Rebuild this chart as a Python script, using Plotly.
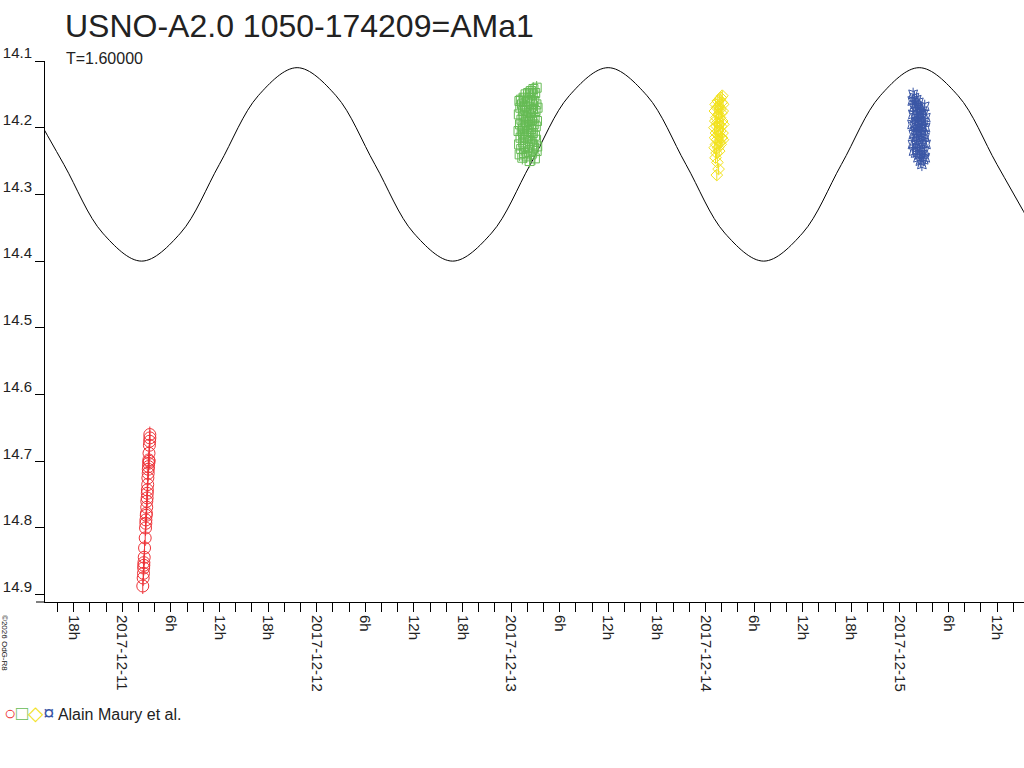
#!/bin/env python3

# %%
import pandas as pd
import plotly.graph_objects as go

# %%
# Model light curve (T=1.6 d): days after 2017-12-11 00:00
curve_days = [-0.501, -0.301, -0.101, 0.099, 0.299, 0.499, 0.699, 0.899, 1.099,
              1.299, 1.499, 1.699, 1.899, 2.099, 2.299, 2.499, 2.699, 2.899,
              3.099, 3.299, 3.499, 3.699, 3.899, 4.099, 4.299, 4.499, 4.699]
curve_mags = [14.152, 14.255, 14.358, 14.400, 14.358, 14.255, 14.152, 14.110, 14.152,
              14.255, 14.358, 14.400, 14.358, 14.255, 14.152, 14.110, 14.152, 14.255,
              14.358, 14.400, 14.358, 14.255, 14.152, 14.110, 14.152, 14.255, 14.358]

# Session 1 (red circles), hours on 2017-12-11
red_hours = [2.52, 2.57, 2.61, 2.63, 2.65, 2.66, 2.70, 2.74, 2.82, 2.86, 2.90, 2.91,
             2.95, 2.97, 3.01, 3.02, 3.06, 3.08, 3.09, 3.13, 3.15, 3.19, 3.20, 3.23,
             3.24, 3.27, 3.29, 3.34, 3.37, 3.40, 3.39, 3.31]
red_mags = [14.887, 14.875, 14.868, 14.860, 14.856, 14.852, 14.844, 14.830, 14.815,
            14.800, 14.793, 14.788, 14.781, 14.778, 14.769, 14.760, 14.755, 14.748,
            14.743, 14.735, 14.725, 14.718, 14.712, 14.708, 14.703, 14.698, 14.688,
            14.676, 14.670, 14.665, 14.660, 14.700]

# Session 2 (green squares), hours on 2017-12-13
green_hours = [0.91, 0.95, 0.98, 1.02, 1.05, 1.09, 1.13, 1.16, 1.20, 1.24, 1.27, 1.31,
               1.34, 1.38, 1.42, 1.45, 1.49, 1.53, 1.56, 1.60, 1.63, 1.67, 1.71, 1.74,
               1.78, 1.81, 1.85, 1.89, 1.92, 1.96, 2.00, 2.03, 2.07, 2.10, 2.14, 2.18,
               2.21, 2.25, 2.28, 2.32, 2.36, 2.39, 2.43, 2.47, 2.50, 2.54, 2.57, 2.61,
               2.65, 2.68, 2.72, 2.75, 2.79, 2.83, 2.86, 2.90, 2.94, 2.97, 3.01, 3.04,
               3.08, 3.12, 3.15, 3.19, 3.22, 3.26, 2.28, 2.93, 3.15]
green_mags = [14.205, 14.180, 14.225, 14.160, 14.240, 14.195, 14.170, 14.215, 14.158,
              14.232, 14.188, 14.205, 14.165, 14.245, 14.198, 14.175, 14.222, 14.155,
              14.210, 14.238, 14.182, 14.200, 14.168, 14.228, 14.150, 14.192, 14.215,
              14.174, 14.243, 14.160, 14.205, 14.185, 14.230, 14.148, 14.196, 14.212,
              14.170, 14.236, 14.155, 14.190, 14.220, 14.178, 14.145, 14.202, 14.240,
              14.165, 14.188, 14.225, 14.150, 14.208, 14.172, 14.142, 14.195, 14.230,
              14.160, 14.185, 14.212, 14.148, 14.175, 14.198, 14.218, 14.165, 14.140,
              14.190, 14.228, 14.170, 14.250, 14.246, 14.235]

# Session 3 (yellow diamonds), hours on 2017-12-14
yellow_hours = [1.10, 1.13, 1.15, 1.18, 1.20, 1.23, 1.25, 1.28, 1.30, 1.33, 1.36, 1.38,
                1.39, 1.41, 1.43, 1.46, 1.48, 1.51, 1.54, 1.56, 1.59, 1.61, 1.64, 1.66,
                1.69, 1.71, 1.74, 1.77, 1.79, 1.82, 1.84, 1.87, 1.89, 1.92, 1.94, 1.97,
                2.00, 2.02, 2.05, 2.07, 2.10, 2.12, 2.15, 2.17, 2.20]
yellow_mags = [14.200, 14.230, 14.175, 14.215, 14.190, 14.245, 14.165, 14.208, 14.225,
               14.185, 14.238, 14.198, 14.271, 14.170, 14.218, 14.252, 14.192, 14.160,
               14.230, 14.205, 14.180, 14.262, 14.212, 14.168, 14.235, 14.195, 14.158,
               14.222, 14.185, 14.205, 14.172, 14.225, 14.155, 14.198, 14.215, 14.178,
               14.162, 14.215, 14.190, 14.152, 14.208, 14.175, 14.218, 14.165, 14.195]

# Session 4 (blue stars), hours on 2017-12-15
blue_hours = [1.50, 1.53, 1.56, 1.60, 1.63, 1.66, 1.69, 1.72, 1.75, 1.79, 1.82, 1.85,
              1.88, 1.91, 1.95, 1.98, 2.01, 2.04, 2.07, 2.11, 2.14, 2.17, 2.20, 2.23,
              2.26, 2.30, 2.33, 2.36, 2.39, 2.42, 2.46, 2.49, 2.52, 2.55, 2.58, 2.61,
              2.65, 2.68, 2.71, 2.74, 2.77, 2.81, 2.84, 2.87, 2.90, 2.93, 2.97, 3.00,
              3.03, 3.06, 3.09, 3.12, 3.16, 3.19, 3.22]
blue_mags = [14.195, 14.160, 14.225, 14.180, 14.150, 14.210, 14.235, 14.170, 14.198,
             14.155, 14.220, 14.185, 14.205, 14.165, 14.238, 14.192, 14.175, 14.215,
             14.158, 14.200, 14.230, 14.182, 14.168, 14.245, 14.208, 14.190, 14.162,
             14.225, 14.198, 14.240, 14.178, 14.212, 14.250, 14.170, 14.195, 14.232,
             14.205, 14.185, 14.255, 14.218, 14.175, 14.240, 14.200, 14.222, 14.180,
             14.248, 14.210, 14.192, 14.235, 14.168, 14.215, 14.245, 14.200, 14.185,
             14.225]

# x axis labels every 6 h
tick_times = ["2017-12-10 18:00", "2017-12-11 00:00", "2017-12-11 06:00", "2017-12-11 12:00",
              "2017-12-11 18:00", "2017-12-12 00:00", "2017-12-12 06:00", "2017-12-12 12:00",
              "2017-12-12 18:00", "2017-12-13 00:00", "2017-12-13 06:00", "2017-12-13 12:00",
              "2017-12-13 18:00", "2017-12-14 00:00", "2017-12-14 06:00", "2017-12-14 12:00",
              "2017-12-14 18:00", "2017-12-15 00:00", "2017-12-15 06:00", "2017-12-15 12:00"]
tick_labels = ["18h", "2017-12-11", "6h", "12h", "18h", "2017-12-12", "6h", "12h",
               "18h", "2017-12-13", "6h", "12h", "18h", "2017-12-14", "6h", "12h",
               "18h", "2017-12-15", "6h", "12h"]
y_ticks = [14.1, 14.2, 14.3, 14.4, 14.5, 14.6, 14.7, 14.8, 14.9]


def to_time(day: str, hours: list) -> pd.DatetimeIndex:
    """Turns decimal hours of a given day into timestamps."""
    return pd.Timestamp(day) + pd.to_timedelta(hours, unit="h")


def session_trace(day, hours, mags, symbol, color, size, err) -> go.Scatter:
    return go.Scatter(
        x=to_time(day, hours),
        y=mags,
        mode="markers",
        marker=dict(symbol=symbol, size=size, color=color, line=dict(width=1, color=color)),
        error_y=dict(type="constant", value=err, color=color, thickness=1, width=0),
        showlegend=False,
    )


def main() -> None:
    fig = go.Figure()

    fig.add_trace(
        go.Scatter(
            x=pd.Timestamp("2017-12-11") + pd.to_timedelta(curve_days, unit="D"),
            y=curve_mags,
            mode="lines",
            line=dict(color="black", width=1, shape="spline", smoothing=1.0),
            showlegend=False,
        )
    )
    fig.add_trace(session_trace("2017-12-11", red_hours, red_mags, "circle-open", "#EE3338", 12, 0.012))
    fig.add_trace(session_trace("2017-12-13", green_hours, green_mags, "square-open", "#66BB55", 9, 0.010))
    fig.add_trace(session_trace("2017-12-14", yellow_hours, yellow_mags, "diamond-open", "#F2E21E", 9, 0.008))
    fig.add_trace(session_trace("2017-12-15", blue_hours, blue_mags, "star-square-open", "#3A56A5", 8, 0.010))

    font = "Liberation Sans, Arial, sans-serif"
    fig.update_layout(
        width=1024,
        height=768,
        margin=dict(l=45, r=0, t=61, b=166, autoexpand=False),
        plot_bgcolor="white",
        paper_bgcolor="white",
        font=dict(family=font, size=15, color="#222222"),
        title=dict(
            text="USNO-A2.0 1050-174209=AMa1",
            x=65 / 1024,
            xanchor="left",
            y=1 - 26 / 768,
            yanchor="middle",
            font=dict(size=32, color="#222222"),
        ),
    )
    fig.update_xaxes(
        type="date",
        range=["2017-12-10 14:27", "2017-12-15 15:19"],
        tickvals=tick_times,
        ticktext=tick_labels,
        tickangle=90,
        ticks="outside",
        ticklen=9,
        tickcolor="black",
        minor=dict(ticks="outside", ticklen=9, tickcolor="black",
                   dtick=2 * 3600 * 1000, tick0="2017-12-11", showgrid=False),
        showline=True,
        linecolor="black",
        linewidth=1,
        showgrid=False,
        zeroline=False,
        automargin=False,
        tickfont=dict(size=15),
    )
    fig.update_yaxes(
        range=[14.911, 14.1],
        tickvals=y_ticks,
        tickformat=".1f",
        ticks="outside",
        ticklen=9,
        tickcolor="black",
        ticklabelshift=8,
        ticklabelstandoff=0,
        showline=True,
        linecolor="black",
        linewidth=1,
        showgrid=False,
        zeroline=False,
        automargin=False,
        tickfont=dict(size=15),
    )

    # x axis line sticks out a little to the left of the y axis
    fig.add_shape(type="line", xref="paper", yref="paper", x0=-9 / 979, x1=0, y0=0, y1=0,
                  line=dict(color="black", width=1))

    fig.add_annotation(text="T=1.60000", xref="paper", yref="paper", x=19 / 979, y=1.0055,
                       xanchor="left", yanchor="middle", showarrow=False, font=dict(size=16))
    fig.add_annotation(
        text="<span style='color:#EE3338;font-size:20px'>○</span>"
             "<span style='color:#66BB55;font-size:20px'>□</span>"
             "<span style='color:#F2E21E;font-size:20px'>◇</span>"
             "<span style='color:#3A56A5;font-size:20px'>¤</span>"
             " Alain Maury et al.",
        xref="paper", yref="paper", x=-43 / 979, y=(602 - 713) / 541,
        xanchor="left", yanchor="middle", showarrow=False, font=dict(size=16),
    )
    fig.add_annotation(text="©2026 OdG-R8", xref="paper", yref="paper", x=-40 / 979,
                       y=(602 - 643) / 541, xanchor="center", yanchor="middle",
                       textangle=90, showarrow=False, font=dict(size=8, color="#111111"))

    # drop the default page margin so the figure sits at the window's corner
    fig.write_html(
        "out.html",
        config={"displayModeBar": False},
        post_script="document.body.style.margin = '0px';",
    )


if __name__ == "__main__":
    main()
